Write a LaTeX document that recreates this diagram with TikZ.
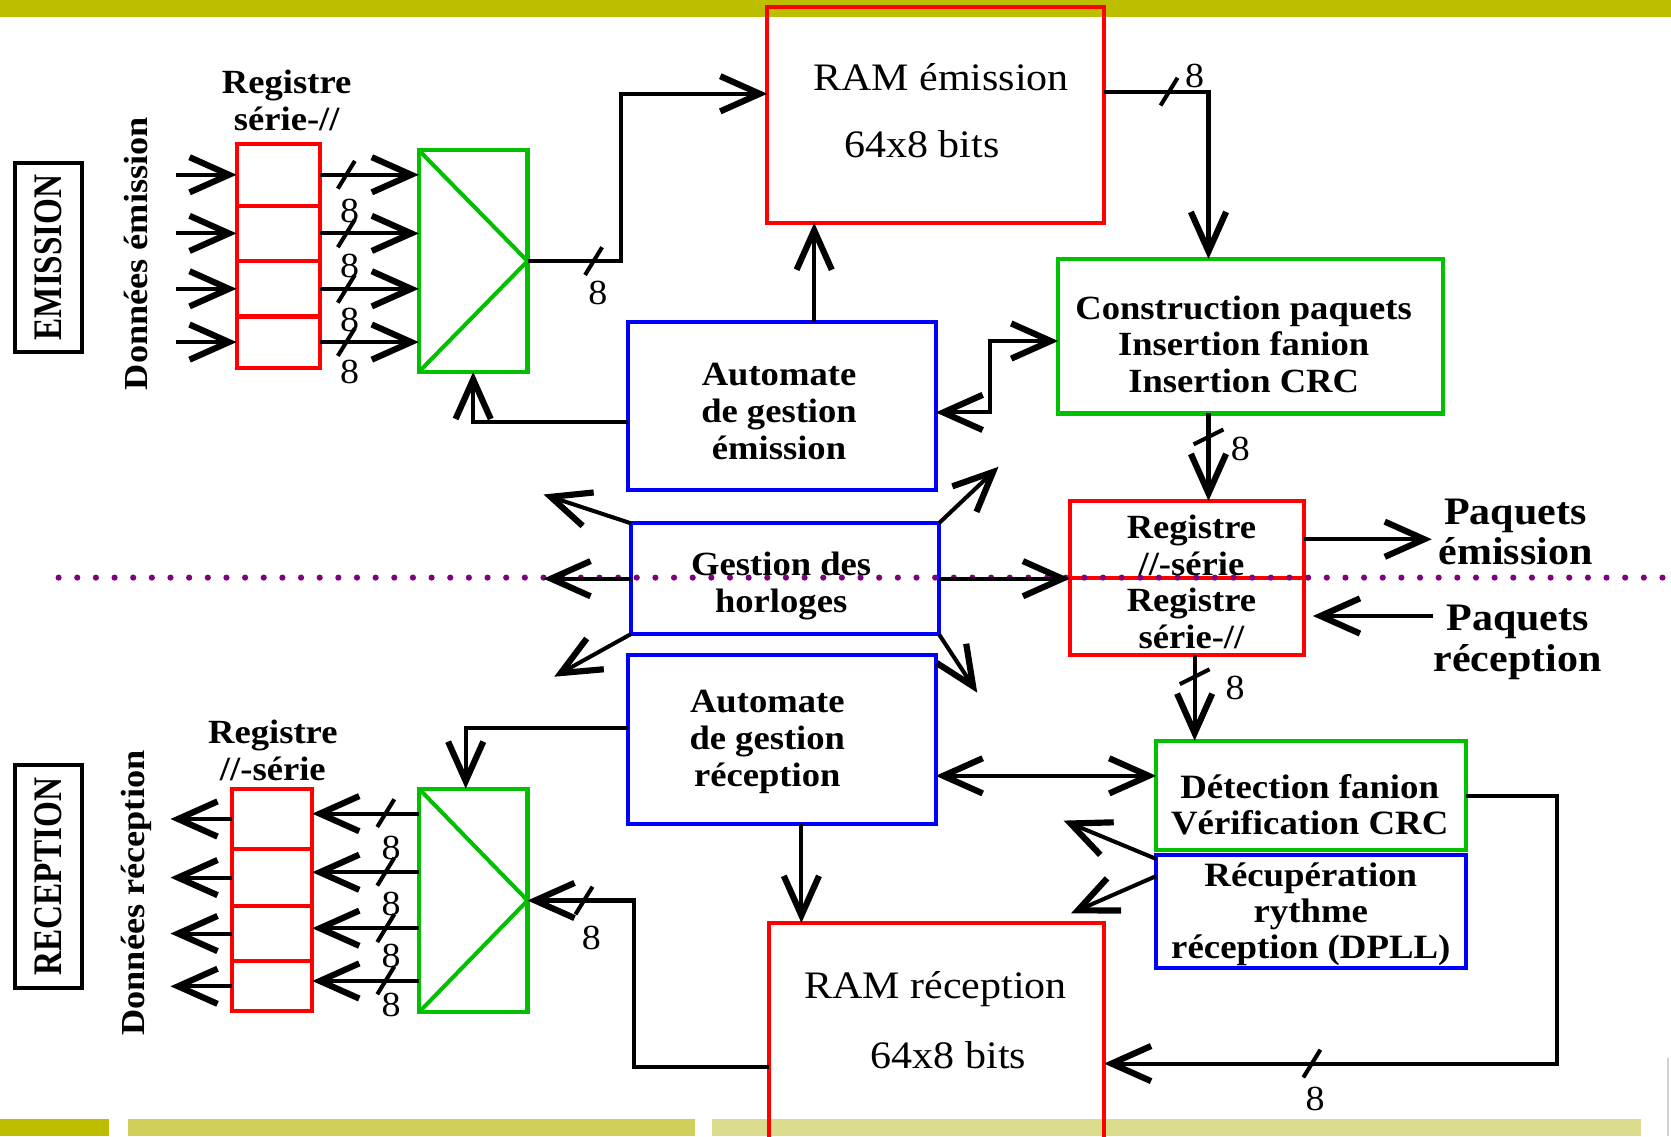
\documentclass[tikz,border=0pt]{standalone}
\usepackage{graphicx}
\usepackage{fontspec}
\setmainfont{Liberation Serif}[FakeStretch=1.08]
\usetikzlibrary{arrows.meta}
\definecolor{barA}{HTML}{BDBE00}
\definecolor{barB}{HTML}{CFD05A}
\definecolor{barC}{HTML}{DCDC8E}
\definecolor{grn}{HTML}{00C000}
\definecolor{dotc}{HTML}{80007F}
\newcommand\mysh[2]{\draw[slashst] ({#1-8},{#2+13}) -- ({#1+8},{#2-13});}
\newcommand\mysv[2]{\draw[slashst] ({#1-14},{#2+7}) -- ({#1+14},{#2-7});}
\tikzset{
  box/.style={draw, rectangle, line width=3.8pt, inner sep=0pt, outer sep=0pt},
  redbox/.style={box, draw=red},
  grnbox/.style={box, draw=grn},
  bluebox/.style={box, draw=blue},
  tagbox/.style={box, draw=black},
  conn/.style={line width=3.8pt, draw=black},
  arr/.style={conn, -{Straight Barb[length=37pt,width=33pt,line width=5.8pt]}},
  darr/.style={conn, {Straight Barb[length=37pt,width=33pt,line width=5.8pt]}-{Straight Barb[length=37pt,width=33pt,line width=5.8pt]}},
  slashst/.style={line width=3.8pt},
  btxt/.style={font=\fontsize{31.8}{34.5}\selectfont\bfseries, align=center},
  rtxt/.style={font=\fontsize{36.5}{40}\selectfont, inner sep=0pt},
  num/.style={font=\fontsize{33}{34}\selectfont, inner sep=0pt},
  side/.style={font=\fontsize{38}{40}\selectfont\bfseries, rotate=90},
  sidelab/.style={font=\fontsize{31.5}{34}\selectfont\bfseries, rotate=90, inner sep=0pt},
  pk/.style={font=\fontsize{36.5}{38}\selectfont\bfseries, align=center, inner sep=0pt},
  diag/.style={draw=grn, line width=3.8pt},
}
\begin{document}
\begin{tikzpicture}[x=1pt,y=-1pt]
\useasboundingbox (0,0) rectangle (1568,1066);
\clip (0,0) rectangle (1568,1066);
\fill[white] (0,0) rectangle (1568,1066);
% bars
\fill[barA] (0,0) rectangle (1568,16);
\fill[barA] (0,1050) rectangle (102,1066);
\fill[barB] (120,1050) rectangle (652,1066);
\fill[barC] (668,1050) rectangle (1540,1066);
\draw[gray!35, line width=2pt] (1565,993) -- (1565,1066);

% ---------- EMISSION side ----------
\node[tagbox, side, minimum width=177pt, minimum height=63pt] (emi) at (45.5,241.5) {\scalebox{0.76}[1]{EMISSION}};
\node[sidelab] (dE) at (128,238) {Données émission};
\node[btxt, inner sep=0pt] (lrE) at (269,94) {Registre\\série-//};
\node[redbox, minimum width=78pt, minimum height=58pt] (rE1) at (261,164) {};
\node[redbox, minimum width=78pt, minimum height=52pt] (rE2) at (261,219) {};
\node[redbox, minimum width=78pt, minimum height=52pt] (rE3) at (261,271) {};
\node[redbox, minimum width=78pt, minimum height=48pt] (rE4) at (261,321) {};
\node[grnbox, minimum width=102pt, minimum height=208pt] (muxE) at (444,245) {};
\draw[diag] (muxE.north west) -- (muxE.east) -- (muxE.south west);

\node[redbox, minimum width=316pt, minimum height=202pt] (ramE) at (878,108) {};
\node[rtxt] (ramEt1) at (883,72) {RAM émission};
\node[rtxt] (ramEt2) at (865,135) {64x8 bits};

\node[grnbox, minimum width=361pt, minimum height=145pt] (constr) at (1173.5,315.5) {};
\node[btxt] (constrt) at (1167,323) {Construction paquets\\Insertion fanion\\Insertion CRC};
\node[bluebox, minimum width=289pt, minimum height=158pt] (autoE) at (733.5,381) {};
\node[btxt] (autoEt) at (731,386) {Automate\\de gestion\\émission};

% ---------- middle ----------
\node[bluebox, minimum width=289pt, minimum height=104pt] (gest) at (736.5,543) {};
\node[btxt] (gestt) at (733,550) {Gestion des\\horloges};
\node[redbox, minimum width=220pt, minimum height=72pt] (regPS) at (1114,506) {};
\node[btxt] (regPSt) at (1118,512) {Registre\\//-série};
\node[redbox, minimum width=220pt, minimum height=73pt] (regSP) at (1114,578.5) {};
\node[btxt] (regSPt) at (1118,580) {Registre\\série-//};
\node[pk] (pE) at (1422,499) {Paquets\\émission};
\node[pk] (pR) at (1424,603) {Paquets\\réception};

% ---------- RECEPTION side ----------
\node[tagbox, side, minimum width=209pt, minimum height=63pt] (rec) at (45.5,822.5) {\scalebox{0.76}[1]{RECEPTION}};
\node[sidelab] (dR) at (128,838) {Données réception};
\node[btxt, inner sep=0pt] (lrR) at (256,704) {Registre\\//-série};
\node[redbox, minimum width=75pt, minimum height=57pt] (rR1) at (255.5,768.5) {};
\node[redbox, minimum width=75pt, minimum height=53pt] (rR2) at (255.5,823.5) {};
\node[redbox, minimum width=75pt, minimum height=52pt] (rR3) at (255.5,876) {};
\node[redbox, minimum width=75pt, minimum height=47pt] (rR4) at (255.5,925.5) {};
\node[grnbox, minimum width=102pt, minimum height=210pt] (muxR) at (444,845) {};
\draw[diag] (muxR.north west) -- (muxR.east) -- (muxR.south west);

\node[bluebox, minimum width=289pt, minimum height=158pt] (autoR) at (733.5,694) {};
\node[btxt] (autoRt) at (720,696) {Automate\\de gestion\\réception};
\node[grnbox, minimum width=291pt, minimum height=103pt] (detect) at (1230.5,746.5) {};
\node[btxt, font=\fontsize{32}{34}\selectfont\bfseries] (detectt) at (1229,755) {Détection fanion\\Vérification CRC};
\node[bluebox, minimum width=291pt, minimum height=106pt] (recup) at (1230.5,855) {};
\node[btxt, font=\fontsize{32}{33.5}\selectfont\bfseries] (recupt) at (1230,858) {Récupération\\rythme\\réception (DPLL)};
\node[redbox, minimum width=314pt, minimum height=248pt] (ramR) at (879,990) {};
\node[rtxt] (ramRt1) at (878,928) {RAM réception};
\node[rtxt] (ramRt2) at (890,990) {64x8 bits};

% dotted separation line
\draw[dotc, line width=5.8pt, line cap=round, dash pattern=on 0pt off 17.5pt] (55,542) -- (1568,542);

% helper coordinates
\coordinate (y998) at (0,998);
\coordinate (y1001) at (0,1001);

% ---------- connectors emission ----------
\foreach \c in {rE1,rE2,rE3,rE4}{
  \draw[arr] ([xshift=-57pt]\c.west) -- (\c.west);
  \draw[arr] (\c.east) -- (\c.east -| muxE.west);
}
\mysh{325}{164} \mysh{325}{219} \mysh{325}{271} \mysh{325}{321}
\node[num] (n1) at (328,198) {8};
\node[num] (n2) at (328,250) {8};
\node[num] (n3) at (328,300) {8};
\node[num] (n4) at (328,349) {8};

\draw[arr] (muxE.east) -- ++(88,0) |- ([yshift=20pt]ramE.west);
\mysh{557}{245}
\node[num] (n5) at (561,275) {8};

\draw[arr] ([yshift=22pt]ramE.east) -| ([xshift=-39.5pt]constr.north);
\mysh{1097}{86}
\node[num] (n6) at (1121,71) {8};

\draw[arr] ([xshift=30.5pt]autoE.north) -- ([xshift=30.5pt]autoE.north |- ramE.south);
\draw[arr] ([yshift=-15pt]autoE.west) -| (muxE.south);
\draw[darr] ([yshift=-6pt]autoE.east) -- ++(51,0) |- ([yshift=-4.5pt]constr.west);

\draw[arr] ([xshift=-39.5pt]constr.south) -- ([xshift=-39.5pt]constr.south |- regPS.north);
\mysv{1134}{410}
\node[num] (n7) at (1164,421) {8};

% ---------- clock arrows ----------
\draw[arr] (gest.north west) -- ++(-82,-27);
\draw[arr] (gest.west) -- ++(-82,0);
\draw[arr] (gest.south west) -- ++(-72,40);
\draw[arr] (gest.north east) -- ++(56,-53);
\draw[arr] (gest.east) -- (gest.east -| regPS.west);
\draw[arr] (gest.south east) -- ++(36,55);

\draw[arr] (regPS.east) -- ([xshift=-6pt]regPS.east -| pE.west);
\draw[arr] ([yshift=25pt]pR.west) -- ([xshift=8pt,yshift=25pt]pR.west -| regSP.east);
\draw[arr] ([xshift=7pt]regSP.south) -- ([xshift=7pt]regSP.south |- detect.north);
\mysv{1121}{635}
\node[num] (n8) at (1159,646) {8};

% ---------- connectors reception ----------
\draw[arr] ([yshift=11pt]autoR.west) -| ([xshift=-7pt]muxR.north);
\draw[darr] ([yshift=-34pt]autoR.east) -- ([yshift=-34pt]autoR.east -| detect.west);
\draw[arr] ([xshift=18.5pt]autoR.south) -- ([xshift=18.5pt]autoR.south |- ramR.north);
\draw[arr] ([yshift=-4pt]recup.north west) -- ++(-87,-36);
\draw[arr] ([yshift=-20pt]recup.north west) -- ++(-80,35);

\draw[arr] (detect.east) -- ++(85,0) |- (ramR.east |- y998);
\mysh{1231}{998}
\node[num] (n9) at (1234,1031) {8};

\draw[arr] (ramR.west |- y1001) -- ++(-127,0) |- (muxR.east);
\mysh{548}{845}
\node[num] (n10) at (555,880) {8};

\foreach \c in {rR1,rR2,rR3,rR4}{
  \draw[arr] ([yshift=5pt]\c.east -| muxR.west) -- ([yshift=5pt]\c.east);
  \draw[arr] (\c.west) -- ++(-58,0);
}
\mysh{362}{763} \mysh{362}{818} \mysh{362}{871} \mysh{362}{920}
\node[num] (n11) at (367,796) {8};
\node[num] (n12) at (367,848) {8};
\node[num] (n13) at (367,897) {8};
\node[num] (n14) at (367,943) {8};
\end{tikzpicture}
\end{document}
